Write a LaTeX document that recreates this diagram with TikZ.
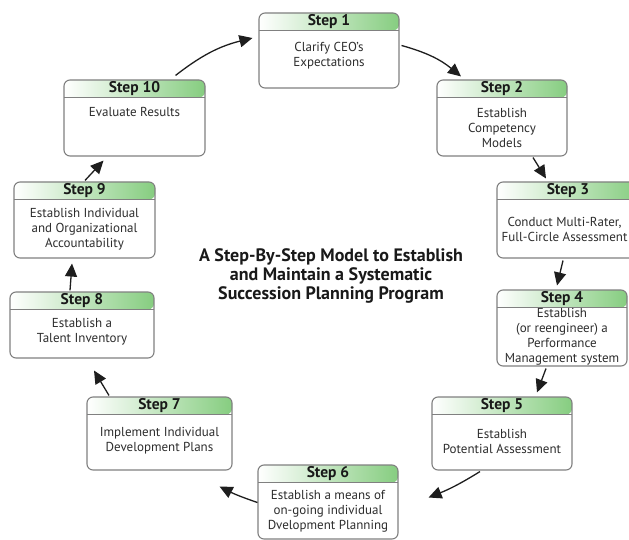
\documentclass[tikz,border=0pt]{standalone}
\usepackage{fontspec}
\setmainfont{PT Sans}
\usetikzlibrary{arrows.meta, calc}
\definecolor{boxgray}{RGB}{128, 128, 128}
\definecolor{stepgreen}{RGB}{134, 205, 128}
\definecolor{arrowdark}{RGB}{30, 30, 30}
\definecolor{textdark}{RGB}{45, 45, 45}

\tikzset{
  stepbox/.style={draw=boxgray, line width=1.1pt, rounded corners=6pt, fill=white,
    minimum width=140pt, minimum height=75pt,
    path picture={
      \shade[left color=white, right color=stepgreen]
        (path picture bounding box.north west) rectangle
        ([yshift=-17.5pt]path picture bounding box.north east);
      \draw[boxgray, line width=1.1pt]
        ([yshift=-17.5pt]path picture bounding box.north west) --
        ([yshift=-17.5pt]path picture bounding box.north east);
    }},
  steptitle/.style={font=\bfseries\fontsize{15.5}{16}\selectfont, inner sep=0pt, text=black!90},
  steptext/.style={align=center, inner sep=0pt, text=textdark, font=\fontsize{13}{15}\selectfont},
  flow/.style={-{Triangle[length=13pt, width=12pt]}, line width=1.3pt, arrowdark}
}

\begin{document}
\begin{tikzpicture}[x=1pt, y=-1pt]

  \fill[white] (0, 0) rectangle (629, 540);
  \useasboundingbox (0, 0) rectangle (629, 540);

  % the ten steps
  \node[stepbox] (s1) at (329, 50.5) {};
  \node[steptitle] (s1h) at ([yshift=-8.75pt]s1.north) {Step 1};
  \node[steptext] (s1t) at (329, 56) {Clarify CEO’s\\Expectations};

  \node[stepbox, minimum width=130pt, minimum height=76pt] (s2) at (502, 118) {};
  \node[steptitle] (s2h) at ([yshift=-8.75pt]s2.north) {Step 2};
  \node[steptext] (s2t) at (502, 128) {Establish\\Competency\\Models};

  \node[stepbox, minimum width=142pt, minimum height=76pt] (s3) at (568, 220) {};
  \node[steptitle] (s3h) at ([yshift=-8.75pt]s3.north) {Step 3};
  \node[steptext] (s3t) at (564.5, 229.5) {Conduct Multi-Rater,\\Full-Circle Assessment};

  \node[stepbox, minimum width=130pt, minimum height=76pt] (s4) at (562, 328) {};
  \node[steptitle] (s4h) at ([yshift=-8.75pt]s4.north) {Step 4};
  \node[steptext] (s4t) at (562, 336.5) {Establish\\(or reengineer) a\\Performance\\Management system};

  \node[stepbox, minimum height=73pt] (s5) at (502, 433.5) {};
  \node[steptitle] (s5h) at ([yshift=-8.75pt]s5.north) {Step 5};
  \node[steptext] (s5t) at (502, 441) {Establish\\Potential Assessment};

  \node[stepbox, minimum height=74pt] (s6) at (328, 502) {};
  \node[steptitle] (s6h) at ([yshift=-8.75pt]s6.north) {Step 6};
  \node[steptext] (s6t) at (328, 511.5) {Establish a means of\\on-going individual\\Dvelopment Planning};

  \node[stepbox, minimum width=145pt, minimum height=73pt] (s7) at (159.5, 433.5) {};
  \node[steptitle] (s7h) at ([yshift=-8.75pt]s7.north) {Step 7};
  \node[steptext] (s7t) at (159.5, 441) {Implement Individual\\Development Plans};

  \node[stepbox, minimum width=144pt, minimum height=66pt] (s8) at (82, 325) {};
  \node[steptitle] (s8h) at ([yshift=-8.75pt]s8.north) {Step 8};
  \node[steptext] (s8t) at (82, 332) {Establish a\\Talent Inventory};

  \node[stepbox, minimum width=141pt, minimum height=76pt] (s9) at (84.5, 220) {};
  \node[steptitle] (s9h) at ([yshift=-8.75pt]s9.north) {Step 9};
  \node[steptext] (s9t) at (84.5, 229.5) {Establish Individual\\and Organizational\\Accountability};

  \node[stepbox, minimum width=141pt, minimum height=76pt] (s10) at (134.5, 118) {};
  \node[steptitle] (s10h) at ([yshift=-8.75pt]s10.north) {Step 10};
  \node[steptext] (s10t) at (134.5, 112) {Evaluate Results};

  % title in the middle
  \node[align=center, text=black!90, font=\bfseries\fontsize{18}{19}\selectfont] (title) at (331, 276)
    {A Step-By-Step Model to Establish\\and Maintain a Systematic\\Succession Planning Program};

  % arrows round the cycle
  \draw[flow] ([shift={(-30, -4)}]s10.north east) to[bend left=12] ([shift={(-6, -12.5)}]s1.west);
  \draw[flow] ([shift={(2, -5)}]s1.east) to[bend left=12] ([shift={(-41, -3)}]s2.north);
  \draw[flow] ([shift={(31, 1)}]s2.south) -- ([shift={(-22, -3)}]s3.north);
  \draw[flow] ([shift={(-5, 2)}]s3.south) -- ([shift={(-5, -4)}]s4.north);
  \draw[flow] ([shift={(-16, 2)}]s4.south) -- ([shift={(35, -4)}]s5.north);
  \draw[flow] ([shift={(-22, 1)}]s5.south) to[bend left=5] ([shift={(30, -4.5)}]s6.east);
  \draw[flow] ([shift={(0, 0.5)}]s6.west) to[bend left=4] ([shift={(-13, 16)}]s7.south east);
  \draw[flow] ([shift={(-50.5, -1)}]s7.north) -- ([shift={(12, 12)}]s8.south);
  \draw[flow] ([shift={(-12, -1)}]s8.north) -- ([shift={(-12.5, 5)}]s9.south);
  \draw[flow] ([shift={(0.5, -1)}]s9.north) -- ([shift={(-31, 4)}]s10.south);

\end{tikzpicture}
\end{document}
